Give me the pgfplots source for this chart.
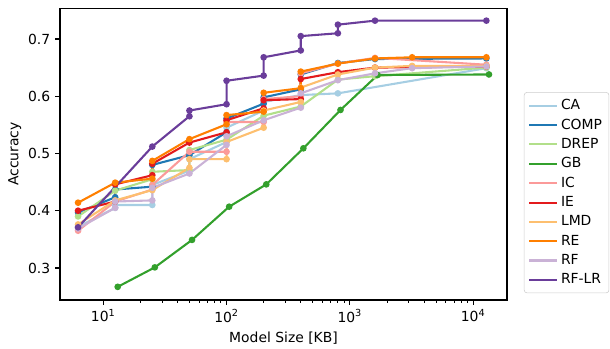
\documentclass[border=0pt]{standalone}
\usepackage{fontspec}
\setmainfont{DejaVu Sans}
\usepackage{pgfplots}
\pgfplotsset{compat=1.18}
\definecolor{cCA}{RGB}{166,206,227}
\definecolor{cCOMP}{RGB}{31,120,180}
\definecolor{cDREP}{RGB}{178,223,138}
\definecolor{cGB}{RGB}{51,160,44}
\definecolor{cIC}{RGB}{251,154,153}
\definecolor{cIE}{RGB}{227,26,28}
\definecolor{cLMD}{RGB}{253,191,111}
\definecolor{cRE}{RGB}{255,127,0}
\definecolor{cRF}{RGB}{202,178,214}
\definecolor{cRFLR}{RGB}{106,61,154}
\begin{document}
\begin{tikzpicture}
\begin{axis}[
  scale only axis,
  width=321.8pt, height=210.2pt,
  xmode=log,
  xmin=4.46, xmax=18800,
  ymin=0.244, ymax=0.754,
  xtick={10,100,1000,10000},
  xticklabels={10\textsuperscript{1},10\textsuperscript{2},10\textsuperscript{3},10\textsuperscript{4}},
  ytick={0.3,0.4,0.5,0.6,0.7},
  yticklabel style={/pgf/number format/assume math mode=true,/pgf/number format/fixed,/pgf/number format/precision=1,/pgf/number format/fixed zerofill},
  tick align=outside,
  major tick length=3.5pt,
  minor tick length=2pt,
  tick style={black, line width=0.8pt},
  minor tick style={black, line width=0.6pt},
  xtick pos=bottom, ytick pos=left,
  axis line style={line width=0.8pt},
  ticklabel style={font=\fontsize{10}{12}\selectfont},
  xlabel={Model Size [KB]},
  ylabel={Accuracy},
  label style={font=\fontsize{10}{12}\selectfont},
  xlabel style={yshift=0pt},
  ylabel style={yshift=-2pt},
  every axis plot/.append style={line width=1.5pt, mark=*, mark size=1.6pt},
  legend style={at={(1.038,0.712)}, anchor=north west, draw=black!20, rounded corners=2pt,
    font=\fontsize{10}{12}\selectfont, row sep=1.1pt, inner xsep=3pt, inner ysep=3pt},
  legend cell align=left,
  legend image code/.code={\draw[#1, mark=none] (0pt,0pt) -- (20pt,0pt);},
]
\addplot[color=cCA] coordinates {(6.25,0.372) (12.5,0.405) (12.5,0.410) (25,0.410) (25,0.445) (50,0.470) (50,0.490) (100,0.520) (100,0.545) (200,0.575) (200,0.590) (400,0.602) (800,0.605) (12800,0.649)};
\addlegendentry{CA}
\addplot[color=cCOMP] coordinates {(6.25,0.397) (12.5,0.4235) (12.5,0.437) (25,0.442) (25,0.480) (50,0.497) (100,0.537) (100,0.561) (200,0.587) (200,0.598) (400,0.612) (400,0.638) (800,0.658) (1600,0.665) (12800,0.666)};
\addlegendentry{COMP}
\addplot[color=cDREP] coordinates {(6.25,0.390) (12.5,0.435) (25,0.455) (25,0.468) (50,0.471) (50,0.506) (100,0.524) (200,0.566) (400,0.582) (800,0.629) (1600,0.635) (12800,0.650)};
\addlegendentry{DREP}
\addplot[color=cGB] coordinates {(13.1,0.267) (26.2,0.301) (52.5,0.349) (105,0.407) (210,0.446) (420,0.509) (840,0.576) (1680,0.637) (13440,0.638)};
\addlegendentry{GB}
\addplot[color=cIC] coordinates {(6.25,0.365) (12.5,0.416) (25,0.437) (25,0.445) (50,0.503) (100,0.503) (100,0.555) (200,0.555) (200,0.595) (400,0.600) (400,0.640) (800,0.657) (1600,0.667) (12800,0.655)};
\addlegendentry{IC}
\addplot[color=cIE] coordinates {(6.25,0.400) (12.5,0.416) (12.5,0.446) (25,0.462) (25,0.482) (50,0.519) (100,0.537) (100,0.558) (200,0.579) (200,0.593) (400,0.595) (400,0.630) (800,0.642) (1600,0.650) (12800,0.652)};
\addlegendentry{IE}
\addplot[color=cLMD] coordinates {(6.25,0.376) (12.5,0.418) (25,0.436) (50,0.475) (50,0.490) (100,0.490) (100,0.520) (200,0.545) (200,0.575) (400,0.590) (400,0.615) (800,0.638) (1600,0.650) (3200,0.653) (12800,0.653)};
\addlegendentry{LMD}
\addplot[color=cRE] coordinates {(6.25,0.414) (12.5,0.449) (25,0.456) (25,0.487) (50,0.525) (100,0.551) (100,0.567) (200,0.573) (200,0.606) (400,0.614) (400,0.643) (800,0.657) (1600,0.666) (3200,0.668) (12800,0.668)};
\addlegendentry{RE}
\addplot[color=cRF] coordinates {(6.25,0.369) (12.5,0.405) (12.5,0.416) (25,0.418) (25,0.440) (50,0.465) (100,0.515) (100,0.530) (200,0.558) (400,0.580) (400,0.605) (800,0.628) (1600,0.640) (3200,0.649) (12800,0.652)};
\addlegendentry{RF}
\addplot[color=cRFLR] coordinates {(6.25,0.371) (25,0.512) (50,0.565) (50,0.575) (100,0.586) (100,0.627) (200,0.636) (200,0.668) (400,0.680) (400,0.705) (800,0.710) (800,0.725) (1600,0.732) (12800,0.732)};
\addlegendentry{RF-LR}
\end{axis}
\path (current axis.south west) ++(-43.2pt,-31.7pt) rectangle ++(439.2pt,247.7pt);
\end{tikzpicture}
\end{document}
